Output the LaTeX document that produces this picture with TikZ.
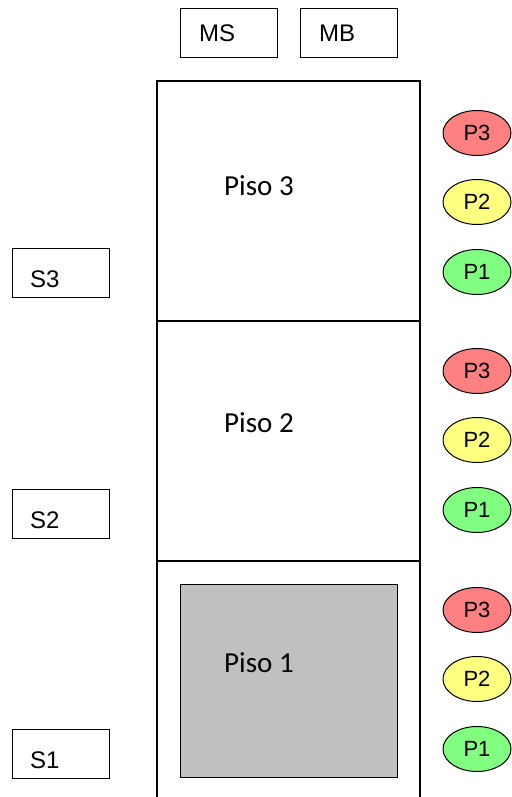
\documentclass[tikz,border=0pt]{standalone}
\usepackage{fontspec}
\setmainfont{Liberation Sans}
\newfontfamily\calib{Carlito}
\usetikzlibrary{shapes.geometric}
\definecolor{pred}{HTML}{FF8080}
\definecolor{pyel}{HTML}{FFFF80}
\definecolor{pgrn}{HTML}{80FF80}
\definecolor{cabin}{HTML}{C0C0C0}
\tikzset{
  boxs/.style={draw, line width=1.2pt, minimum width=97pt, minimum height=49pt, inner sep=0pt, anchor=north west},
  lbl/.style={font=\fontsize{24}{28}\selectfont, anchor=base west, inner sep=0pt},
  piso/.style={font=\calib\fontsize{29}{34}\selectfont, anchor=base west, inner sep=0pt},
  lamp/.style={ellipse, draw, line width=1pt, minimum width=68pt, minimum height=45pt, inner sep=0pt, font=\fontsize{22}{26}\selectfont},
  wall/.style={line width=1.3pt}
}
\begin{document}
\begin{tikzpicture}[x=1pt,y=-1pt]
\useasboundingbox (0,0) rectangle (511,797);
% top boxes
\node[boxs] (ms) at (180,8) {};
\node[lbl] (mst) at (199,42) {MS};
\node[boxs] (mb) at (300,8) {};
\node[lbl] (mbt) at (319,42) {MB};
% shaft
\coordinate (tl) at (157,81);
\coordinate (tr) at (420,81);
\coordinate (bl) at (157,797);
\coordinate (br) at (420,797);
\coordinate (f2l) at (157,321);
\coordinate (f2r) at (420,321);
\coordinate (f1l) at (157,561);
\coordinate (f1r) at (420,561);
\draw[wall] (bl) -- (tl) -- (tr) -- (br);
\draw[wall] (f2l) -- (f2r);
\draw[wall] (f1l) -- (f1r);
% cabin
\node[draw, line width=1.3pt, fill=cabin, minimum width=217pt, minimum height=193pt, inner sep=0pt, anchor=north west] (cab) at (180,584) {};
% floor labels
\node[piso] (p3) at (224,195) {Piso 3};
\node[piso] (p2) at (224,432) {Piso 2};
\node[piso] (p1) at (224,672) {Piso 1};
% S boxes
\node[boxs] (s3) at (12,248) {};
\node[lbl] (s3t) at (30,287) {S3};
\node[boxs] (s2) at (12,489) {};
\node[lbl] (s2t) at (30,528) {S2};
\node[boxs] (s1) at (12,729) {};
\node[lbl] (s1t) at (30,768) {S1};
% lamps
\foreach \i/\dy in {3/0,2/238,1/477}{
  \node[lamp, fill=pred] (l\i c) at (477,133+\dy) {P3};
  \node[lamp, fill=pyel] (l\i b) at (477,202+\dy) {P2};
  \node[lamp, fill=pgrn] (l\i a) at (477,272+\dy) {P1};
}
\end{tikzpicture}
\end{document}
